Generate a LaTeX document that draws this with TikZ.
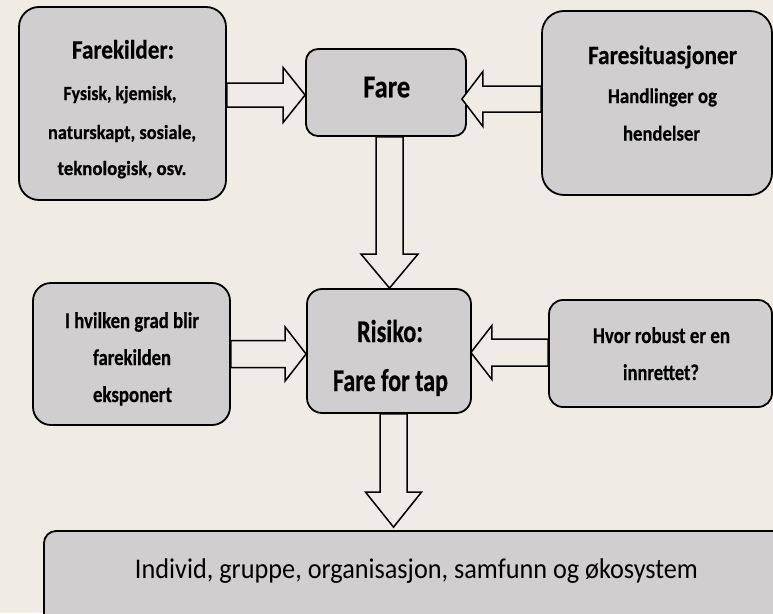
\documentclass[tikz,border=0pt]{standalone}
\usepackage{fontspec}
\usepackage{graphicx}
\setmainfont[BoldFeatures={FakeBold=0.6}]{Carlito}
\usetikzlibrary{calc}
\definecolor{bg}{RGB}{240,235,228}
\definecolor{boxfill}{RGB}{208,206,206}
% #1 font size (pt), #2 target width (pt), #3 text
\newcommand\fitb[3]{\resizebox{#2pt}{\height}{\fontsize{#1}{#1}\selectfont\bfseries #3}}
\newcommand\fitr[3]{\resizebox{#2pt}{\height}{\fontsize{#1}{#1}\selectfont #3}}
\newcommand\harrow[5]{%
  \draw[arr] ($(#1)+(0,-#3)$) -- ($(#2)+(#5,-#3)$) -- ($(#2)+(#5,-#4)$) -- (#2)
    -- ($(#2)+(#5,#4)$) -- ($(#2)+(#5,#3)$) -- ($(#1)+(0,#3)$) -- cycle;}
\newcommand\varrow[5]{%
  \draw[arr] ($(#1)+(-#3,0)$) -- ($(#2)+(-#3,#5)$) -- ($(#2)+(-#4,#5)$) -- (#2)
    -- ($(#2)+(#4,#5)$) -- ($(#2)+(#3,#5)$) -- ($(#1)+(#3,0)$) -- cycle;}
\tikzset{
  box/.style={draw=black, line width=1.8pt, fill=boxfill, rectangle, inner sep=0pt},
  arr/.style={draw=black, line width=1.5pt, fill=bg, line join=miter},
  tb/.style={anchor=base, inner sep=0pt, text=black}
}
\begin{document}
\begin{tikzpicture}[x=1pt,y=-1pt]
\useasboundingbox (0,0) rectangle (773,613);
\fill[bg] (0,0) rectangle (773,613);
% boxes
\node[box, minimum width=207pt, minimum height=193pt, rounded corners=20pt] (src) at (122.5,103.5) {};
\node[box, minimum width=160pt, minimum height=87pt, rounded corners=12pt] (fare) at (386,92.5) {};
\node[box, minimum width=230pt, minimum height=184pt, rounded corners=22pt] (sit) at (657,103) {};
\node[box, minimum width=197pt, minimum height=142pt, rounded corners=18pt] (lft) at (131.5,354) {};
\node[box, minimum width=164pt, minimum height=124pt, rounded corners=15pt] (ris) at (389,351) {};
\node[box, minimum width=223pt, minimum height=107pt, rounded corners=14pt] (rgt) at (660.5,353.5) {};
\node[box, minimum width=746pt, minimum height=118pt, rounded corners=12pt] (bot) at (417,590) {};
% texts
\node[tb] (src1) at (123,58.5) {\fitb{26.4}{102}{Farekilder:}};
\node[tb] (src2) at (120,100) {\fitb{20}{113}{Fysisk, kjemisk,}};
\node[tb] (src3) at (122,139) {\fitb{20}{148}{naturskapt, sosiale,}};
\node[tb] (src4) at (122,175) {\fitb{20}{129}{teknologisk, osv.}};
\node[tb] (fare1) at (386.7,97.3) {\fitb{31.6}{47}{Fare}};
\node[tb] (sit1) at (662.5,64) {\fitb{26.4}{149}{Faresituasjoner}};
\node[tb] (sit2) at (662.5,103) {\fitb{21}{109}{Handlinger og}};
\node[tb] (sit3) at (661.5,140.5) {\fitb{21}{77}{hendelser}};
\node[tb] (lft1) at (132,328) {\fitb{22.5}{134}{I hvilken grad blir}};
\node[tb] (lft2) at (132,365) {\fitb{22.5}{78}{farekilden}};
\node[tb] (lft3) at (132.5,402) {\fitb{22.5}{79}{eksponert}};
\node[tb] (ris1) at (390,342) {\fitb{31.6}{66}{Risiko:}};
\node[tb] (ris2) at (390.5,391) {\fitb{31.6}{115}{Fare for tap}};
\node[tb] (rgt1) at (661.5,343) {\fitb{22.5}{137}{Hvor robust er en}};
\node[tb] (rgt2) at (661,380) {\fitb{22.5}{76}{innrettet?}};
\node[tb] (bot1) at (416.5,578) {\fitr{28.5}{563}{Individ, gruppe, organisasjon, samfunn og økosystem}};
% arrow anchor coordinates
\coordinate (a1s) at (src.east |- 0,95);
\coordinate (a1t) at (fare.west |- 0,95);
\coordinate (a2s) at (sit.west |- 0,99);
\coordinate (a2t) at ($(fare.east |- 0,99)+(-5,0)$);
\coordinate (a3s) at (fare.south -| 389.5,0);
\coordinate (a3t) at (ris.north -| 389.5,0);
\coordinate (a4s) at (lft.east |- 0,354);
\coordinate (a4t) at (ris.west |- 0,354);
\coordinate (a5s) at (rgt.west |- 0,352.5);
\coordinate (a5t) at ($(ris.east |- 0,352.5)+(-1,0)$);
\coordinate (a6s) at (ris.south -| 393.5,0);
\coordinate (a6t) at ($(bot.north -| 393.5,0)+(0,-3)$);
% arrows
\harrow{a1s}{a1t}{12}{27.5}{-22}
\harrow{a2s}{a2t}{13}{27.5}{21}
\varrow{a3s}{a3t}{13.5}{28.5}{-34}
\harrow{a4s}{a4t}{13.5}{27}{-21}
\harrow{a5s}{a5t}{13.5}{27}{21}
\varrow{a6s}{a6t}{13.5}{28}{-35}
\end{tikzpicture}
\end{document}
